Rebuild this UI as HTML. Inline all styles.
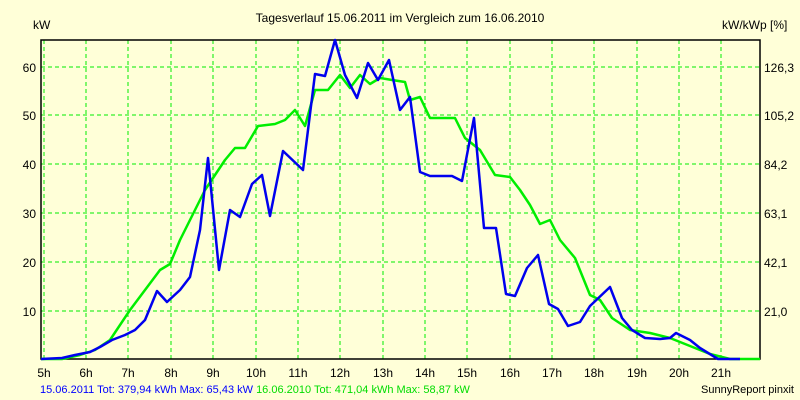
<!DOCTYPE html>
<html><head><meta charset="utf-8"><style>
body{margin:0;background:#ffffd8;}
svg{display:block;font-family:"Liberation Sans",sans-serif;}
</style></head><body>
<svg width="800" height="400" viewBox="0 0 800 400">
<rect width="800" height="400" fill="#ffffd8"/>
<text x="400" y="22" font-size="12" text-anchor="middle">Tagesverlauf 15.06.2011 im Vergleich zum 16.06.2010</text>
<text x="33" y="29" font-size="12">kW</text>
<text x="722" y="29" font-size="12">kW/kWp [%]</text>
<g stroke="#00ee00" stroke-width="1" stroke-dasharray="4,3" fill="none">
<path d="M44,40V359M86,40V359M128,40V359M171,40V359M213,40V359M256,40V359M298,40V359M340,40V359M383,40V359M425,40V359M467,40V359M510,40V359M552,40V359M594,40V359M637,40V359M679,40V359M721,40V359"/>
<path d="M41,311H760M41,262H760M41,213H760M41,164H760M41,115H760M41,67H760"/>
</g>
<path d="M41,40V359H760V40H41Z" fill="none" stroke="#000" stroke-width="1.5"/>
<g font-size="12" text-anchor="end">
<text x="36" y="316">10</text><text x="36" y="267">20</text><text x="36" y="218">30</text><text x="36" y="169">40</text><text x="36" y="120">50</text><text x="36" y="72">60</text>
</g>
<g font-size="12">
<text x="764" y="316">21,0</text><text x="764" y="267">42,1</text><text x="764" y="218">63,1</text><text x="764" y="169">84,2</text><text x="764" y="120">105,2</text><text x="764" y="72">126,3</text>
</g>
<g font-size="12" text-anchor="middle">
<text x="44" y="377">5h</text><text x="86" y="377">6h</text><text x="128" y="377">7h</text><text x="171" y="377">8h</text><text x="213" y="377">9h</text><text x="256" y="377">10h</text><text x="298" y="377">11h</text><text x="340" y="377">12h</text><text x="383" y="377">13h</text><text x="425" y="377">14h</text><text x="467" y="377">15h</text><text x="510" y="377">16h</text><text x="552" y="377">17h</text><text x="594" y="377">18h</text><text x="637" y="377">19h</text><text x="679" y="377">20h</text><text x="721" y="377">21h</text>
</g>
<text x="40" y="393" font-size="11" fill="#0000ff">15.06.2011 Tot: 379,94 kWh Max: 65,43 kW <tspan fill="#00dd00">16.06.2010 Tot: 471,04 kWh Max: 58,87 kW</tspan></text>
<text x="794" y="393" font-size="11" text-anchor="end">SunnyReport pinxit</text>
<polyline fill="none" stroke="#00ee00" stroke-width="2.5" stroke-linejoin="round" points="41,359 62,359 80,355 95,350 110,340 130,310 145,290 160,270 170,264 180,240 195,210 205,190 215,175 225,160 235,148 245,148 258,126 275,124 285,120 295,110 305,126 315,90 328,90 340,75 350,88 360,75 370,84 380,78 392,80 405,82 410,100 420,97 430,118 445,118 455,118 465,138 480,150 495,175 510,177 520,190 530,205 540,224 550,220 560,240 575,258 590,295 600,300 612,318 630,330 650,333 670,338 690,346 710,354 730,359 760,359"/>
<polyline fill="none" stroke="#0000ee" stroke-width="2.5" stroke-linejoin="round" points="41,359 62,358 75,355 90,352 100,347 112,340 125,335 135,330 145,320 157,291 167,302 180,290 190,277 200,230 208,158 219,270 230,210 240,217 252,184 262,175 270,216 283,151 303,170 315,74 325,76 335,40 345,75 357,98 368,63 378,80 389,60 400,110 410,97 420,172 430,176 442,176 452,176 462,181 474,118 484,228 496,228 506,294 515,296 527,268 538,255 549,304 558,309 568,326 580,322 590,306 610,287 622,318 632,330 645,338 660,339 670,338 676,333 690,340 700,348 718,359 740,359"/>
</svg>
</body></html>
